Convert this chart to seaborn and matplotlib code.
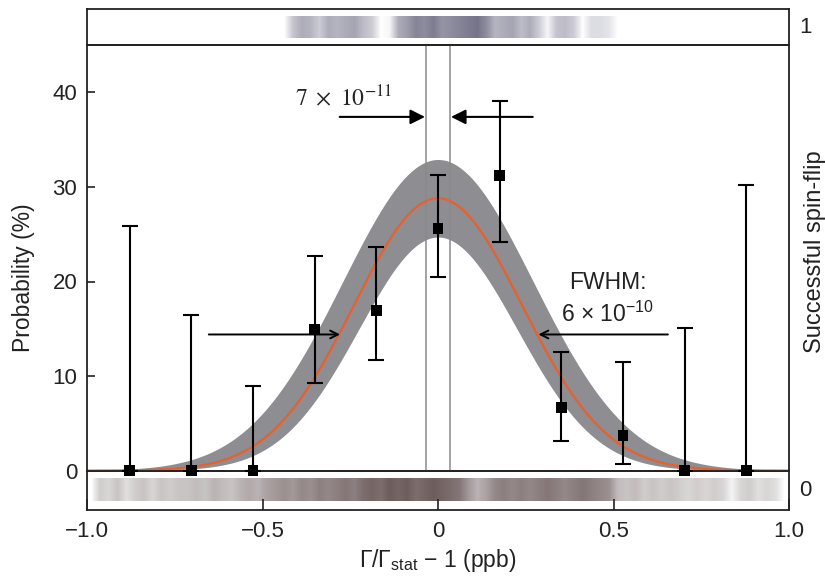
import numpy as np
import pandas as pd
import matplotlib
matplotlib.use("Agg")
import matplotlib.pyplot as plt
from matplotlib.colors import LinearSegmentedColormap
import seaborn as sns

# ── data ─────────────────────────────────────────────────────────────────────
X_POS = [-0.878, -0.703, -0.527, -0.351, -0.176, 0.0, 0.176, 0.351, 0.527, 0.703, 0.878]
PROB = [0, 0, 0, 14.95, 16.9, 25.6, 31.25, 6.7, 3.74, 0, 0]
PROB_LOW = [0, 0, 0, 9.3, 11.7, 20.5, 24.2, 3.1, 0.7, 0, 0]
PROB_HIGH = [25.9, 16.5, 9.0, 22.7, 23.6, 31.3, 39.1, 12.6, 11.5, 15.05, 30.2]

# Gaussian fit and its confidence band (peak height, FWHM in ppb)
FIT_PEAK, FIT_FWHM = 28.8, 0.565
BAND_HIGH_PEAK, BAND_HIGH_FWHM = 32.9, 0.64
BAND_LOW_PEAK, BAND_LOW_FWHM = 24.7, 0.53

RES_LINES = [-0.035, 0.035]
X_TICKS = [-1.0, -0.5, 0.0, 0.5, 1.0]
X_TICK_LABELS = ["\u22121.0", "\u22120.5", "0", "0.5", "1.0"]
Y_TICKS = [0, 10, 20, 30, 40]

# spin-flip strips: 80 bins of 0.025 ppb from -1 to 1 (0 = none, 1 = darkest)
TOP_STRIP = ([0] * 23
             + [0.35, 0.5, 0.45, 0.3, 0.5]
             + [0.45, 0.5, 0.55, 0.4, 0.3]
             + [0.0, 0.05]
             + [0.5, 0.6]
             + [0.75, 0.7, 0.8, 0.65, 0.7, 0.75, 0.8, 0.85, 0.7]
             + [0.45, 0.5, 0.55, 0.4, 0.5, 0.3]
             + [0.05]
             + [0.35, 0.4, 0.3]
             + [0]
             + [0.2, 0.2, 0.15]
             + [0] * 20)
BOTTOM_STRIP = ([0]
                + [0.25, 0.2, 0.3, 0.15, 0.25, 0.3, 0.2, 0.3, 0.25, 0.3]
                + [0.3, 0.35, 0.3, 0.4, 0.35, 0.3, 0.4, 0.45, 0.4, 0.5]
                + [0.55, 0.6, 0.55, 0.65, 0.6, 0.7, 0.65, 0.7, 0.75, 0.7]
                + [0.8, 0.85, 0.8, 0.9, 0.85, 0.9, 0.8, 0.85, 0.9, 0.85, 0.8, 0.75]
                + [0.55, 0.4, 0.5, 0.65, 0.7, 0.65]
                + [0.7, 0.65, 0.7, 0.75, 0.7, 0.65, 0.7, 0.75, 0.7, 0.65, 0.6]
                + [0.35, 0.3, 0.35, 0.25, 0.3, 0.25, 0.3]
                + [0.25, 0.2, 0.25, 0.2, 0.25, 0.2]
                + [0.05]
                + [0.2, 0.25, 0.15, 0.2, 0.15]
                + [0])

sns.set_theme(style="white")
plt.rcParams["font.family"] = ["Liberation Sans", "DejaVu Sans"]
plt.rcParams["mathtext.fontset"] = "custom"
plt.rcParams["mathtext.rm"] = "Liberation Sans"
plt.rcParams["mathtext.it"] = "Liberation Sans:italic"
plt.rcParams["axes.edgecolor"] = "#222222"
plt.rcParams["axes.linewidth"] = 1.3


def gauss(x, peak, fwhm):
    sigma = fwhm / 2.3548
    return peak * np.exp(-x ** 2 / (2 * sigma ** 2))


fig = plt.figure(figsize=(8.25, 5.76), dpi=100)
left, width = 87 / 825, 702 / 825
ax_top = fig.add_axes([left, 1 - 45 / 576, width, 35.7 / 576])
ax_bot = fig.add_axes([left, 1 - 510 / 576, width, 39.3 / 576])
ax = fig.add_axes([left, 1 - 470.7 / 576, width, 425.7 / 576])
ax.set_zorder(5)
ax.patch.set_alpha(0)

# ── main panel ──────────────────────────────────────────────────────────────
xs = np.linspace(-1, 1, 401)
fit_df = pd.DataFrame({"x": xs, "fit": gauss(xs, FIT_PEAK, FIT_FWHM)})
ax.fill_between(xs, gauss(xs, BAND_LOW_PEAK, BAND_LOW_FWHM),
                gauss(xs, BAND_HIGH_PEAK, BAND_HIGH_FWHM),
                color="#8d8d92", lw=0, zorder=1)
sns.lineplot(data=fit_df, x="x", y="fit", color="#e8602c", lw=1.6, ax=ax, zorder=2)

for xv in RES_LINES:
    ax.axvline(xv, color="#8a8a8a", lw=1.1, zorder=1.5)

pts = pd.DataFrame({"x": X_POS, "p": PROB, "lo": PROB_LOW, "hi": PROB_HIGH})
ax.errorbar(pts["x"], pts["p"], yerr=[pts["p"] - pts["lo"], pts["hi"] - pts["p"]],
            fmt="none", ecolor="black", elinewidth=1.5, capsize=5.5, capthick=1.5,
            zorder=4, clip_on=False)
sns.scatterplot(data=pts, x="x", y="p", marker="s", s=62, color="black",
                edgecolor="none", zorder=5, clip_on=False, ax=ax)

# resolution arrows
ax.annotate("", xy=(RES_LINES[0] - 0.002, 37.4), xytext=(-0.28, 37.4),
            arrowprops=dict(arrowstyle="-|>", mutation_scale=22, lw=1.5,
                            color="black", shrinkA=0, shrinkB=0))
ax.annotate("", xy=(RES_LINES[1] + 0.002, 37.4), xytext=(0.27, 37.4),
            arrowprops=dict(arrowstyle="-|>", mutation_scale=22, lw=1.5,
                            color="black", shrinkA=0, shrinkB=0))
ax.text(-0.268, 39.4, r"$7\ \times\ 10^{-11}$", math_fontfamily="stix",
        fontsize=17, ha="center", va="center")

# FWHM arrows
half = FIT_PEAK / 2
ax.annotate("", xy=(-0.279, half), xytext=(-0.653, half),
            arrowprops=dict(arrowstyle="->", mutation_scale=14, lw=1.4,
                            color="black", shrinkA=0, shrinkB=0))
ax.annotate("", xy=(0.286, half), xytext=(0.655, half),
            arrowprops=dict(arrowstyle="->", mutation_scale=14, lw=1.4,
                            color="black", shrinkA=0, shrinkB=0))
ax.text(0.484, 19.9, "FWHM:", fontsize=16.5, ha="center", va="center", color="#222222")
ax.text(0.483, 16.5, "6 \u00d7 10$^{-10}$", fontsize=16.5, ha="center", va="center",
        color="#222222")

ax.set_xlim(-1, 1)
ax.set_ylim(0, 45)
ax.set_xlabel("")
ax.set_ylabel("")
ax.set_yticks(Y_TICKS)
ax.tick_params(axis="y", direction="in", length=6, width=1.2, labelsize=16,
               pad=7, left=True, colors="#222222")
ax.tick_params(axis="x", bottom=False, labelbottom=False)

# ── spin-flip strips ────────────────────────────────────────────────────────
cm_top = LinearSegmentedColormap.from_list(
    "top", [(0, "#ffffff"), (0.15, "#e4e4ea"), (1, "#5f5c74")])
cm_bot = LinearSegmentedColormap.from_list(
    "bot", [(0, "#ffffff"), (0.15, "#e0dede"), (1, "#5f4c4c")])

ax_top.imshow(np.array([TOP_STRIP]), cmap=cm_top, vmin=0, vmax=1, aspect="auto",
              interpolation="bilinear", extent=(-1, 1, 0.2, 0.81))
ax_top.set_xlim(-1, 1)
ax_top.set_ylim(0, 1)
ax_top.set_xticks([])
ax_top.set_yticks([])
ax_top.text(1.014, 0.5, "1", transform=ax_top.transAxes, fontsize=16,
            ha="left", va="center", color="#222222")

ax_bot.imshow(np.array([BOTTOM_STRIP]), cmap=cm_bot, vmin=0, vmax=1, aspect="auto",
              interpolation="bilinear", extent=(-1, 1, 0.23, 0.79))
ax_bot.set_xlim(-1, 1)
ax_bot.set_ylim(0, 1)
ax_bot.set_yticks([])
ax_bot.set_xticks(X_TICKS)
ax_bot.set_xticklabels(X_TICK_LABELS)
ax_bot.tick_params(axis="x", direction="in", length=8, width=1.2, labelsize=16,
                   pad=8, bottom=True, colors="#222222")
ax_bot.text(1.014, 0.5, "0", transform=ax_bot.transAxes, fontsize=16,
            ha="left", va="center", color="#222222")

# axis titles
fig.text(24 / 825, 1 - 278 / 576, "Probability (%)", rotation=90, fontsize=16.5,
         ha="center", va="center", color="#222222")
fig.text(815 / 825, 1 - 252 / 576, "Successful spin-flip", rotation=90,
         fontsize=17, ha="center", va="center", color="#222222")
fig.text(438 / 825, 1 - 567 / 576, r"$\Gamma/\Gamma_{\mathrm{stat}}$" + " \u2212 1 (ppb)",
         fontsize=16.5, ha="center", va="baseline", color="#222222")

fig.savefig("out.png", dpi=100)
